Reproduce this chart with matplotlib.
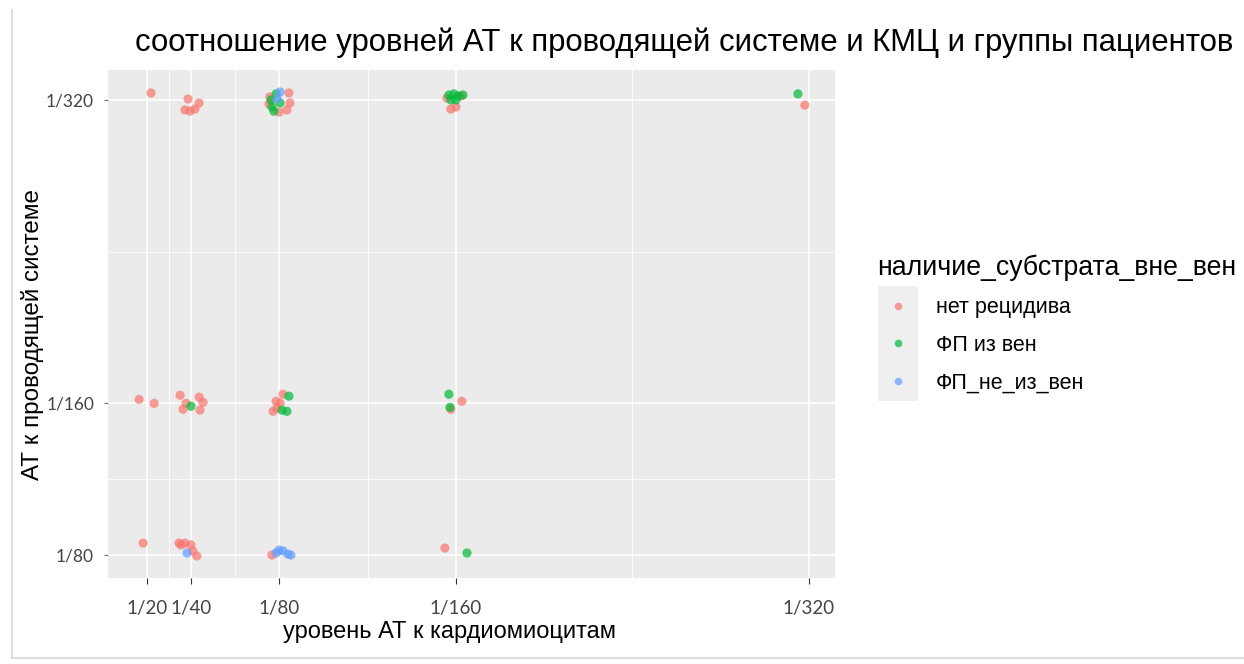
import matplotlib

matplotlib.use("Agg")
import matplotlib.pyplot as plt
from matplotlib.lines import Line2D

# dilution levels (denominators of 1/N titres)
x_breaks = [20, 40, 80, 160, 320]
x_labels = ["1/20", "1/40", "1/80", "1/160", "1/320"]
y_breaks = [80, 160, 320]
y_labels = ["1/80", "1/160", "1/320"]

groups = ["нет рецидива", "ФП из вен", "ФП_не_из_вен"]
colors = ["#F8766D", "#00BA38", "#619CFF"]

# jittered points (x = АТ к КМЦ, y = АТ к проводящей системе)
red_x = [21.8, 37.2, 39.5, 41.7, 38.6, 43.6,
         75.7, 84.3, 84.8, 83.4, 79.8, 75.3,
         157.7, 160.0, 155.9, 162.3,
         318.1,
         16.4, 23.2,
         35.0, 36.3, 43.6, 45.4, 44.0, 37.7,
         78.5, 81.6, 77.1, 78.9, 80.3,
         162.7, 157.7,
         18.2, 34.5, 37.2, 39.9, 40.8, 42.6, 35.4,
         76.6,
         155.0]
red_y = [323.7, 314.7, 314.1, 315.2, 320.5, 318.4,
         321.6, 323.7, 318.4, 314.7, 313.6, 317.9,
         315.2, 316.3, 321.0, 322.1,
         317.3,
         162.1, 160.0,
         164.3, 156.9, 163.3, 160.5, 156.4, 160.0,
         161.1, 164.8, 155.8, 157.4, 160.0,
         161.1, 156.9,
         86.3, 86.3, 86.3, 85.3, 82.1, 79.5, 85.3,
         80.0,
         83.7]

green_x = [76.2, 76.6, 77.5, 80.3, 78.5,
           156.8, 159.1, 160.9, 163.2, 157.7, 160.0,
           315.0,
           39.9,
           84.3, 83.4, 81.2,
           156.8, 157.3,
           165.0]
green_y = [320.0, 316.3, 314.1, 318.4, 323.2,
           322.6, 323.2, 322.1, 322.6, 320.0, 320.0,
           323.2,
           158.5,
           163.8, 155.8, 156.4,
           164.8, 157.9,
           81.1]

blue_x = [80.3, 79.0,
          38.1,
          78.5, 81.6, 83.9, 85.2, 79.8]
blue_y = [324.2, 320.5,
          81.1,
          81.1, 82.2, 80.5, 80.0, 82.6]

plt.rcParams["font.family"] = ["Liberation Sans", "DejaVu Sans"]

fig = plt.figure(figsize=(12.44, 6.64), dpi=100)
ax = fig.add_axes([0.0868, 0.1295, 0.5844, 0.7651])
ax.set_facecolor("#EBEBEB")
for s in ax.spines.values():
    s.set_visible(False)

ax.set_xlim(2.3, 331.8)
ax.set_ylim(67.9, 335.8)

# ggplot-like grid: minor lines between the major breaks
for v in [30, 60, 120, 240]:
    ax.axvline(v, color="white", lw=0.6, zorder=0)
for v in [120, 240]:
    ax.axhline(v, color="white", lw=0.6, zorder=0)
for v in x_breaks:
    ax.axvline(v, color="white", lw=1.2, zorder=0)
for v in y_breaks:
    ax.axhline(v, color="white", lw=1.2, zorder=0)

ax.set_xticks(x_breaks)
ax.set_xticklabels(x_labels)
ax.set_yticks(y_breaks)
ax.set_yticklabels(y_labels)
ax.tick_params(axis="x", length=4, color="#333333", labelcolor="#444444", pad=12)
ax.tick_params(axis="y", length=3, color="#777777", labelcolor="#444444", pad=7)
for lab in ax.get_xticklabels():
    lab.set_family(["Lato", "DejaVu Sans"])
    lab.set_fontsize(13.5)
for lab in ax.get_yticklabels():
    lab.set_family(["Lato", "DejaVu Sans"])
    lab.set_fontsize(12.5)

for xs, ys, c in [(red_x, red_y, colors[0]), (green_x, green_y, colors[1]),
                  (blue_x, blue_y, colors[2])]:
    ax.scatter(xs, ys, s=44, color=c, alpha=0.7, edgecolors="none", zorder=3)

ax.set_xlabel("уровень АТ к кардиомиоцитам", fontsize=17)
ax.xaxis.set_label_coords(0.470, -0.085)
ax.set_ylabel("АТ к проводящей системе", fontsize=17.5)
ax.yaxis.set_label_coords(-0.088, 0.48)

fig.text(0.55, 0.935, "соотношение уровней АТ к проводящей системе и КМЦ и группы пациентов",
         ha="center", va="center", fontsize=22.4)

# legend keys sit on a light grey key background, as in ggplot
key_bg = Line2D([], [], marker="s", ls="none", markersize=28.5, color="#EFEFEF",
                markeredgewidth=0)
handles = [(key_bg, Line2D([], [], marker="o", ls="none", markersize=5.5, color=c,
                           alpha=0.7, markeredgewidth=0)) for c in colors]
leg = fig.legend(handles, groups, title="наличие_субстрата_вне_вен",
                 loc="upper left", bbox_to_anchor=(0.698, 0.63), frameon=False,
                 fontsize=15.5, title_fontsize=19.2, handlelength=2.0, handletextpad=0.75,
                 labelspacing=0.77, borderaxespad=0)
leg._legend_box.align = "left"

# thin frame along the left and bottom edge
fig.add_artist(Line2D([0.0097, 0.0097], [0.009, 0.985], color="#DDDDDD", lw=1.5,
                      transform=fig.transFigure))
fig.add_artist(Line2D([0.0097, 1.0], [0.009, 0.009], color="#DDDDDD", lw=1.5,
                      transform=fig.transFigure))

fig.savefig("out.png", dpi=100)
